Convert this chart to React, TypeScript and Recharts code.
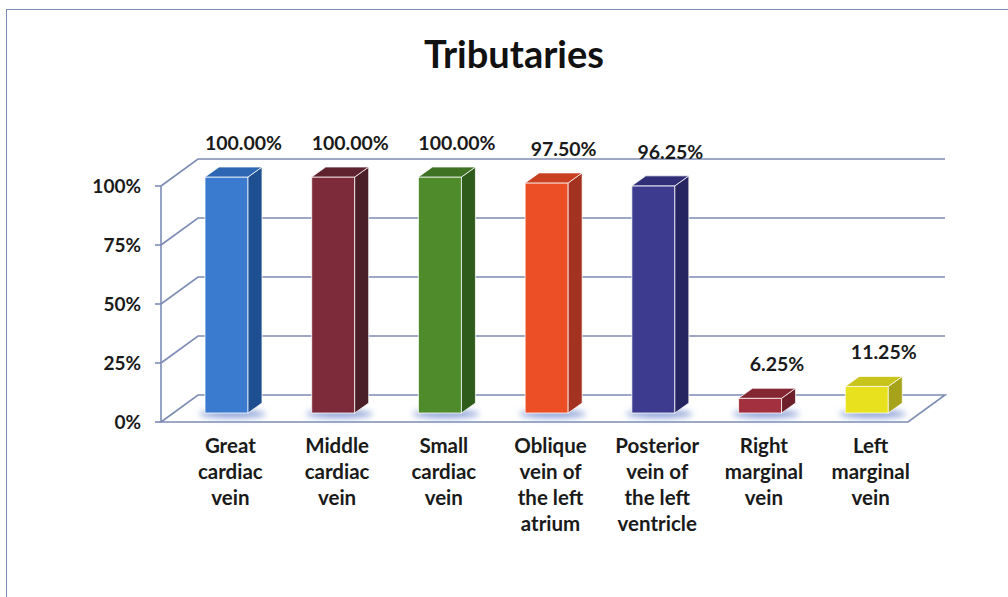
import { BarChart, Bar, XAxis, YAxis, CartesianGrid, LabelList } from "recharts";

const categories = [
  "Great\ncardiac\nvein",
  "Middle\ncardiac\nvein",
  "Small\ncardiac\nvein",
  "Oblique\nvein of\nthe left\natrium",
  "Posterior\nvein of\nthe left\nventricle",
  "Right\nmarginal\nvein",
  "Left\nmarginal\nvein",
];
const shares = [1, 1, 1, 0.975, 0.9625, 0.0625, 0.1125];
const yTicks = [0, 0.25, 0.5, 0.75, 1];

const frontColors = ["#3a7bcf", "#7d2a3a", "#4f8a2b", "#ec4f26", "#3d3b90", "#a3303e", "#e8e21e"];
const sideColors = ["#1e4f91", "#4b1f28", "#2f5b1b", "#a33220", "#262562", "#6d2029", "#a6a31a"];
const topColors = ["#2d66b3", "#5f2330", "#3f7222", "#c93f22", "#2f2e76", "#842733", "#c9c41c"];

const data = categories.map((name, i) => ({ name, value: shares[i], idx: i }));

const FONT = "Lato, 'Open Sans', sans-serif";
const GRID = "#7d8cb5";
const PLOT_TOP = 186;
const PLOT_BOTTOM = 422;
const WALL_DX = 37;
const WALL_DY = -27;

function gridLine(p: any) {
  const { x1, x2, y1 } = p;
  const isFloor = Math.abs(y1 - PLOT_BOTTOM) < 2;
  const d = isFloor
    ? `M${x1},${y1} L${x1 + WALL_DX},${y1 + WALL_DY} L${x2 + WALL_DX},${y1 + WALL_DY} L${x2},${y1} Z`
    : `M${x1},${y1} L${x1 + WALL_DX},${y1 + WALL_DY} L${x2 + WALL_DX},${y1 + WALL_DY}`;
  return <path key={p.key} d={d} fill="none" stroke={GRID} strokeWidth={1.6} />;
}

function Bar3D(props: any) {
  const { x, y, width, height } = props;
  const i = props.payload?.idx ?? props.index ?? 0;
  const fx = x + 12;
  const fy = y - 9;
  const dx = 14;
  const dy = -10;
  const edge = "rgba(255,255,255,0.75)";
  return (
    <g>
      <defs>
        <filter id={`sh-${i}`} x="-50%" y="-200%" width="200%" height="500%">
          <feGaussianBlur stdDeviation="3" />
        </filter>
      </defs>
      <ellipse
        cx={fx + width / 2 + 6}
        cy={fy + height + 1}
        rx={width / 2 + 12}
        ry={4}
        fill="#8ea3d8"
        filter={`url(#sh-${i})`}
      />
      <rect x={fx} y={fy} width={width} height={height} fill={frontColors[i]} stroke={edge} strokeWidth={1} />
      <path
        d={`M${fx + width},${fy} L${fx + width + dx},${fy + dy} L${fx + width + dx},${fy + height + dy} L${fx + width},${fy + height} Z`}
        fill={sideColors[i]}
        stroke={edge}
        strokeWidth={1}
      />
      <path
        d={`M${fx},${fy} L${fx + dx},${fy + dy} L${fx + width + dx},${fy + dy} L${fx + width},${fy} Z`}
        fill={topColors[i]}
        stroke={edge}
        strokeWidth={1}
      />
    </g>
  );
}

function ValueLabel(props: any) {
  const { x, y, width, value } = props;
  return (
    <text
      x={x + width / 2 + 29}
      y={y - 36}
      textAnchor="middle"
      fontFamily={FONT}
      fontWeight={700}
      fontSize={19.5}
      fill="#1a1a1a"
    >
      {(value * 100).toFixed(2) + "%"}
    </text>
  );
}

function CategoryTick(props: any) {
  const { x, y, payload } = props;
  const lines = String(payload.value).split("\n");
  return (
    <text x={x + 16} y={y + 31} textAnchor="middle" fontFamily={FONT} fontWeight={700} fontSize={20.5} fill="#1a1a1a">
      {lines.map((line, k) => (
        <tspan key={k} x={x + 16} dy={k === 0 ? 0 : 26}>
          {line}
        </tspan>
      ))}
    </text>
  );
}

export default function App() {
  return (
    <div style={{ position: "absolute", left: 0, top: 0, width: 1008, height: 597, overflow: "hidden", background: "#fff" }}>
      <div
        style={{
          position: "absolute",
          left: 6,
          top: 9,
          width: 1040,
          height: 640,
          border: `1.5px solid ${GRID}`,
        }}
      />
      <div
        style={{
          position: "absolute",
          left: 0,
          top: 31,
          width: 1028,
          textAlign: "center",
          fontFamily: FONT,
          fontWeight: 700,
          fontSize: 38,
          lineHeight: "44px",
          color: "#111",
        }}
      >
        Tributaries
      </div>
      <div style={{ position: "absolute", left: 0, top: 0 }}>
        <BarChart
          width={1008}
          height={597}
          data={data}
          margin={{ top: PLOT_TOP, right: 100, bottom: 597 - PLOT_BOTTOM - 30, left: 101 }}
          barSize={43}
        >
          <CartesianGrid vertical={false} horizontal={gridLine} />
          <XAxis dataKey="name" axisLine={false} tickLine={false} tickSize={0} tickMargin={0} interval={0} tick={<CategoryTick />} height={30} />
          <YAxis
            width={60}
            domain={[0, 1]}
            ticks={yTicks}
            tickFormatter={(v: number) => `${Math.round(v * 100)}%`}
            axisLine={{ stroke: GRID, strokeWidth: 1.6 }}
            tickLine={{ stroke: GRID, strokeWidth: 1.6 }}
            tickSize={6}
            tickMargin={14}
            tick={{ fill: "#1a1a1a", fontSize: 19, fontWeight: 700, fontFamily: FONT }}
          />
          <Bar dataKey="value" shape={Bar3D} isAnimationActive={false}>
            <LabelList dataKey="value" content={ValueLabel} />
          </Bar>
        </BarChart>
      </div>
    </div>
  );
}
